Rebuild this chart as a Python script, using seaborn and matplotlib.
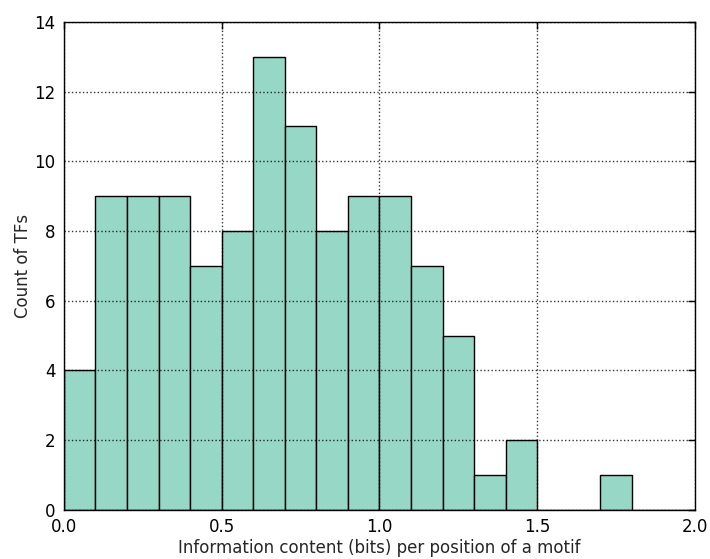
import numpy as np
import matplotlib
matplotlib.use("Agg")
import matplotlib.pyplot as plt
import seaborn as sns

bin_edges = [round(0.1 * i, 1) for i in range(21)]
bin_centers = [round(0.1 * i + 0.05, 2) for i in range(20)]
counts = [4, 9, 9, 9, 7, 8, 13, 11, 8, 9, 9, 7, 5, 1, 2, 0, 0, 1, 0, 0]
x_ticks = [0.0, 0.5, 1.0, 1.5, 2.0]
y_ticks = [0, 2, 4, 6, 8, 10, 12, 14]

sns.set_style("white")
plt.rcParams['font.family'] = ['DejaVu Sans']

fig = plt.figure(figsize=(7.1, 5.59), dpi=100)
ax = fig.add_axes([0.090, 0.088, 0.889, 0.873])

sns.histplot(x=bin_centers, weights=counts, bins=bin_edges, ax=ax,
             color="#97d7c6", alpha=1.0, edgecolor="black", linewidth=1.0)

ax.set_xlim(0, 2.0)
ax.set_ylim(0, 14)
ax.set_xticks(x_ticks)
ax.set_xticklabels([f"{t:.1f}" for t in x_ticks])
ax.set_yticks(y_ticks)
ax.grid(True, linestyle=":", color="black", linewidth=1.0, alpha=0.8)
ax.set_axisbelow(False)
ax.tick_params(direction="in", top=True, right=True, length=5, width=1,
               labelsize=12, colors="black", pad=6)
for s in ax.spines.values():
    s.set_visible(True)
    s.set_color("black")
    s.set_linewidth(1.0)
ax.set_xlabel("Information content (bits) per position of a motif", fontsize=12, labelpad=2)
ax.set_ylabel("Count of TFs", fontsize=12, labelpad=2)

fig.savefig("out.png", dpi=100)
